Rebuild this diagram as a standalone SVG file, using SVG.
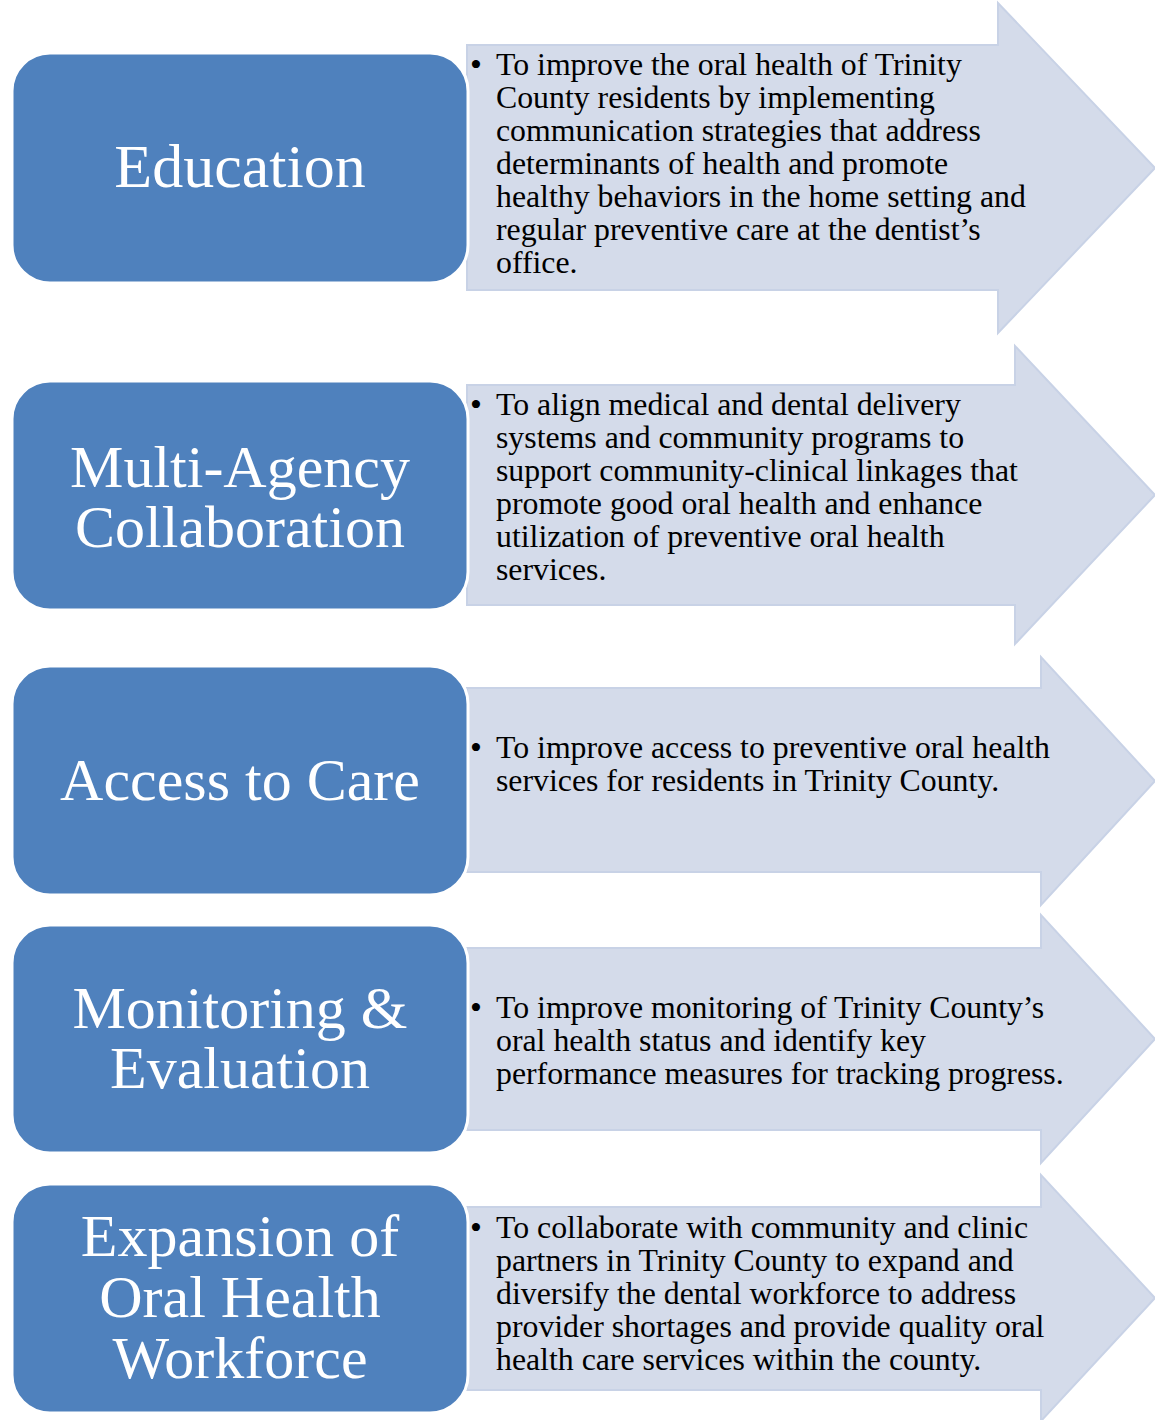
<svg xmlns="http://www.w3.org/2000/svg" width="1155" height="1420" viewBox="0 0 1155 1420">
<style>
.arrow{fill:#d4dbea;stroke:#c8d2e6;stroke-width:2;stroke-linejoin:miter}
.box{fill:#4f81bd;stroke:#ffffff;stroke-width:3}
.lbl{font-family:"Liberation Serif","Times New Roman",serif;font-size:60px;fill:#ffffff;text-anchor:middle}
.txt{font-family:"Liberation Serif","Times New Roman",serif;font-size:31.8px;fill:#000000}
.bul{font-family:"Liberation Serif","Times New Roman",serif;font-size:34px;fill:#000000}
</style>
<rect width="1155" height="1420" fill="#ffffff"/>

<g id="goal-education">
<polygon class="arrow" points="467,45 998,45 998,3 1155,168 998,333 998,290 467,290"/>
<rect class="box" x="12" y="53" width="456" height="230" rx="38"/>
<text class="lbl" x="240" y="187" style="font-size:62px">Education</text>
<text class="bul" x="470" y="76">•</text>
<text class="txt" x="496">
<tspan x="496" y="75">To improve the oral health of Trinity</tspan>
<tspan x="496" y="108">County residents by implementing</tspan>
<tspan x="496" y="141">communication strategies that address</tspan>
<tspan x="496" y="174">determinants of health and promote</tspan>
<tspan x="496" y="207">healthy behaviors in the home setting and</tspan>
<tspan x="496" y="240">regular preventive care at the dentist’s</tspan>
<tspan x="496" y="273">office.</tspan>
</text>
</g>

<g id="goal-collaboration">
<polygon class="arrow" points="467,385 1015,385 1015,346 1155,495 1015,644 1015,605 467,605"/>
<rect class="box" x="12" y="381" width="456" height="229" rx="38"/>
<text class="lbl" x="240" y="487">Multi-Agency</text>
<text class="lbl" x="240" y="547">Collaboration</text>
<text class="bul" x="470" y="416">•</text>
<text class="txt" x="496">
<tspan x="496" y="415">To align medical and dental delivery</tspan>
<tspan x="496" y="448">systems and community programs to</tspan>
<tspan x="496" y="481">support community-clinical linkages that</tspan>
<tspan x="496" y="514">promote good oral health and enhance</tspan>
<tspan x="496" y="547">utilization of preventive oral health</tspan>
<tspan x="496" y="580">services.</tspan>
</text>
</g>

<g id="goal-access">
<polygon class="arrow" points="467,688 1041,688 1041,657 1155,781 1041,905 1041,872 467,872"/>
<rect class="box" x="12" y="666" width="456" height="229" rx="38"/>
<text class="lbl" x="240" y="800">Access to Care</text>
<text class="bul" x="470" y="759">•</text>
<text class="txt" x="496">
<tspan x="496" y="758">To improve access to preventive oral health</tspan>
<tspan x="496" y="791">services for residents in Trinity County.</tspan>
</text>
</g>

<g id="goal-monitoring">
<polygon class="arrow" points="467,948 1041,948 1041,915 1155,1039 1041,1163 1041,1130 467,1130"/>
<rect class="box" x="12" y="925" width="456" height="228" rx="38"/>
<text class="lbl" x="240" y="1028">Monitoring &amp;</text>
<text class="lbl" x="240" y="1088">Evaluation</text>
<text class="bul" x="470" y="1019">•</text>
<text class="txt" x="496">
<tspan x="496" y="1018">To improve monitoring of Trinity County’s</tspan>
<tspan x="496" y="1051">oral health status and identify key</tspan>
<tspan x="496" y="1084">performance measures for tracking progress.</tspan>
</text>
</g>

<g id="goal-workforce">
<polygon class="arrow" points="467,1207 1041,1207 1041,1175 1155,1298 1041,1421 1041,1390 467,1390"/>
<rect class="box" x="12" y="1184" width="456" height="229" rx="38"/>
<text class="lbl" x="240" y="1256">Expansion of</text>
<text class="lbl" x="240" y="1317">Oral Health</text>
<text class="lbl" x="240" y="1378">Workforce</text>
<text class="bul" x="470" y="1239">•</text>
<text class="txt" x="496">
<tspan x="496" y="1238">To collaborate with community and clinic</tspan>
<tspan x="496" y="1271">partners in Trinity County to expand and</tspan>
<tspan x="496" y="1304">diversify the dental workforce to address</tspan>
<tspan x="496" y="1337">provider shortages and provide quality oral</tspan>
<tspan x="496" y="1370">health care services within the county.</tspan>
</text>
</g>
</svg>
